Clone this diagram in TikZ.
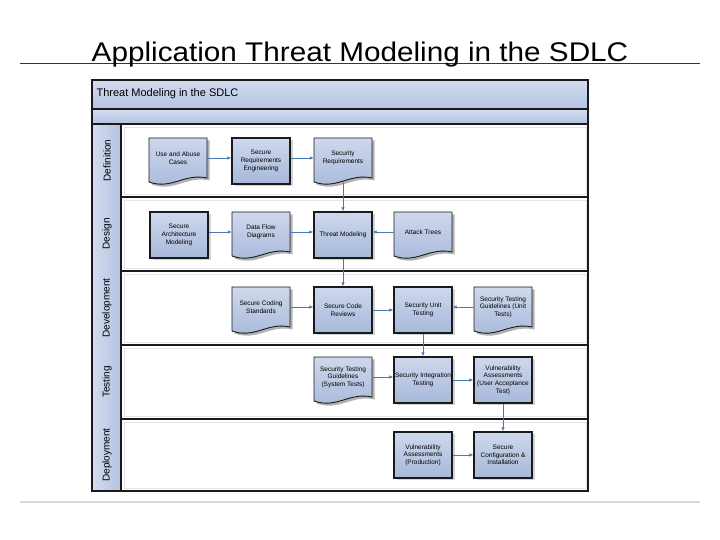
\documentclass[tikz,border=0pt]{standalone}
\usepackage{fontspec}
\setmainfont{Liberation Sans}
\newfontfamily\titlefont[FakeStretch=1.1]{Liberation Sans}
\usetikzlibrary{arrows.meta, calc, shadows}
\definecolor{cnavy}{HTML}{1F3A5F}
\definecolor{cflow}{HTML}{4A78B0}
\definecolor{cboxtop}{HTML}{CFD8EC}
\definecolor{cboxbot}{HTML}{A6B8DA}
\definecolor{cbandtop}{HTML}{D3DCEE}
\definecolor{cband}{HTML}{B3C3E2}
\definecolor{cdark}{HTML}{1A1A1A}
\definecolor{clight}{HTML}{E2E5EA}
\definecolor{crule}{HTML}{D9D9D9}
\tikzset{
  every picture/.style={x=1pt, y=1pt},
  procbox/.style={draw=cdark, line width=1.3pt, top color=cboxtop, bottom color=cboxbot,
    minimum width=58pt, minimum height=46pt, inner sep=1pt, align=center,
    font=\fontsize{6.5}{7.6}\selectfont,
    drop shadow={shadow xshift=2.5pt, shadow yshift=-2.5pt, opacity=0.35}},
  docbox/.style={minimum width=58pt, minimum height=40pt, inner sep=1pt, align=center,
    font=\fontsize{6.5}{7.6}\selectfont},
  docshadow/.style={fill=black!30},
  docshape/.style={draw=cdark, line width=0.9pt, top color=cboxtop, bottom color=cboxbot},
  flow/.style={-{Latex[length=4pt, width=3.5pt]}, draw=cflow, line width=0.7pt},
  lanename/.style={rotate=90, font=\fontsize{10}{12}\selectfont},
  heading/.style={anchor=west, font=\fontsize{11}{13}\selectfont},
}
% document shape with its text node: #1 name, #2 centre, #3 text
\newcommand{\docnode}[3]{%
  \begin{scope}[shift={(#2)}]
    \path[docshadow] (-26.5,17.5) -- (31.5,17.5) -- (31.5,-22.5)
      .. controls (8.5,-17.5) and (-3.5,-34.5) .. (-26.5,-26.5) -- cycle;
    \path[docshape] (-29,20) -- (29,20) -- (29,-20)
      .. controls (6,-15) and (-6,-32) .. (-29,-24) -- cycle;
  \end{scope}
  \node[docbox] (#1) at (#2) {#3};}

\begin{document}
\begin{tikzpicture}
  \useasboundingbox (0,0) rectangle (720,540);
  % slide title
  \draw[cnavy, line width=1.5pt] (20,476.5) -- (700,476.5);
  \node[font=\titlefont\fontsize{27}{32}\selectfont, anchor=base] (title) at (360,478.5) {Application Threat Modeling in the SDLC};
  \draw[crule, line width=2pt] (20,38) -- (700,38);

  % pool header
  \shade[top color=cbandtop, bottom color=cband] (92,431) rectangle (588,460);
  \shade[top color=cbandtop, bottom color=cband] (92,416) rectangle (588,431);
  \node[heading] (hdr) at (93,446) {Threat Modeling in the SDLC};

  % lanes
  \foreach \ytop/\ybot/\lname [count=\i] in {416/343/Definition, 343/269/Design, 269/195/Development, 195/121/Testing, 121/49/Deployment} {
    \shade[left color=cbandtop, right color=cband] (92,\ybot) rectangle (121,\ytop);
    \draw[clight, line width=0.5pt] (124,\ybot+3) rectangle (586,\ytop-3);
    \draw[cdark, line width=1.5pt] (92,\ybot) -- (588,\ybot);
    \node[lanename] (lane\i) at (107,{(\ytop+\ybot)/2}) {\lname};
  }
  \draw[cdark, line width=1.5pt] (92,431) -- (588,431) (92,416) -- (588,416) (121,49) -- (121,416);
  \draw[cdark, line width=1.6pt] (92,49) rectangle (588,460);

  % definition
  \docnode{uc}{178,382}{Use and Abuse\\Cases}
  \node[procbox] (sre) at (261,379) {Secure\\Requirements\\Engineering};
  \docnode{sr}{343,382}{Security\\Requirements}
  % design
  \node[procbox] (sam) at (179,305) {Secure\\Architecture\\Modeling};
  \docnode{dfd}{261,308}{Data Flow\\Diagrams}
  \node[procbox] (tm) at (343,305) {Threat Modeling};
  \docnode{at}{423,308}{Attack Trees}
  % development
  \docnode{scs}{261,233}{Secure Coding\\Standards}
  \node[procbox] (scr) at (343,230) {Secure Code\\Reviews};
  \node[procbox] (sut) at (423,230) {Security Unit\\Testing};
  \docnode{stgu}{503,233}{Security Testing\\Guidelines (Unit\\Tests)}
  % testing
  \docnode{stgs}{343,163}{Security Testing\\Guidelines\\(System Tests)}
  \node[procbox] (sit) at (423,160) {Security Integration\\Testing};
  \node[procbox] (vuat) at (503,160) {Vulnerability\\Assessments\\(User Acceptance\\Test)};
  % deployment
  \node[procbox] (vap) at (423,85) {Vulnerability\\Assessments\\(Production)};
  \node[procbox] (sci) at (503,85) {Secure\\Configuration \&\\Installation};

  \draw[flow] (uc.east) -- (sre.west |- uc.east);
  \draw[flow] (sre.east |- sr.west) -- (sr.west);
  \draw[flow] ([yshift=-3pt]sr.south) -- (tm.north);
  \draw[flow] (sam.east |- dfd.west) -- (dfd.west);
  \draw[flow] (dfd.east) -- (tm.west |- dfd.east);
  \draw[flow] (at.west) -- (tm.east |- at.west);
  \draw[flow] (tm.south) -- (scr.north);
  \draw[flow] (scs.east) -- (scr.west |- scs.east);
  \draw[flow] (scr.east) -- (sut.west);
  \draw[flow] (stgu.west) -- (sut.east |- stgu.west);
  \draw[flow] (sut.south) -- (sit.north);
  \draw[flow] (stgs.east) -- (sit.west |- stgs.east);
  \draw[flow] (sit.east) -- (vuat.west);
  \draw[flow] (vuat.south) -- (sci.north);
  \draw[flow] (vap.east) -- (sci.west);
\end{tikzpicture}
\end{document}
